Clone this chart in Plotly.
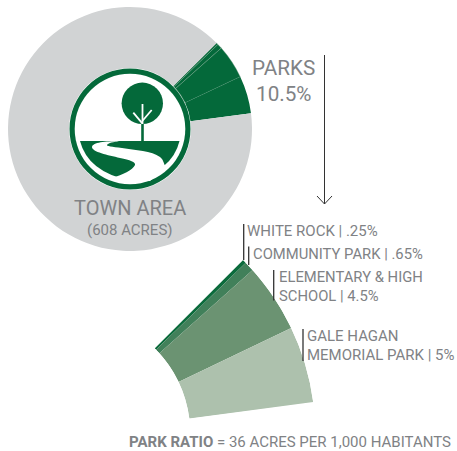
import plotly.graph_objects as go

W, H = 457, 451
park_names = ["White Rock", "Community Park", "Elementary & High School", "Gale Hagan Memorial Park"]
park_shares = [0.25, 0.65, 4.5, 5.0]
town_share = 89.6
main_colors = ["#04693a", "#04693a", "#04693a", "#04693a", "#d1d3d4"]
fan_colors = ["#0b6b3c", "#41805a", "#6b9372", "#adc1ad"]
GRAY = "#808285"
GREEN = "#04693a"
FONT = "Roboto"


def px(x):
    return x / W


def py(y):
    return 1 - y / H


fig = go.Figure()
fig.add_trace(go.Pie(
    labels=park_names + ["Town area"],
    values=park_shares + [town_share],
    sort=False, direction="clockwise", rotation=45.2, hole=0.5,
    textinfo="none", hoverinfo="skip", showlegend=False,
    marker=dict(colors=main_colors,
                line=dict(color="#7fa98f", width=[0.4, 0.4, 0.4, 0, 0])),
    domain=dict(x=[px(8), px(252)], y=[py(251), py(7)]),
))

# lower fan: the park slices enlarged
thetas, widths, cum = [], [], 45.0
for s in park_shares:
    w = s * 3.6
    thetas.append(cum + w / 2)
    widths.append(w)
    cum += w
fig.add_trace(go.Barpolar(
    r=[1, 1, 1, 1], theta=thetas, width=widths,
    marker=dict(color=fan_colors, line=dict(width=0)),
    hoverinfo="skip", showlegend=False,
))

shapes = []


def circle(cx, cy, r, fill):
    shapes.append(dict(type="circle", xref="paper", yref="paper",
                       x0=px(cx - r), x1=px(cx + r), y0=py(cy + r), y1=py(cy - r),
                       fillcolor=fill, line=dict(width=0), layer="above"))


def line(x0, y0, x1, y1, color="#333333", width=1.3):
    shapes.append(dict(type="line", xref="paper", yref="paper",
                       x0=px(x0), y0=py(y0), x1=px(x1), y1=py(y1),
                       line=dict(color=color, width=width), layer="above"))


def path(cmds, fill):
    out = []
    for c in cmds:
        if isinstance(c, str):
            out.append(c)
        else:
            out.append(f"{px(c[0]):.5f} {py(c[1]):.5f}")
    shapes.append(dict(type="path", xref="paper", yref="paper", path=" ".join(out),
                       fillcolor=fill, line=dict(width=0), layer="above"))


# logo
circle(130, 129, 60.5, GREEN)
circle(130, 129, 55.3, "white")
circle(142.3, 103.3, 20.7, GREEN)
line(142.5, 120, 142.5, 142, GREEN, 2.6)
line(142.5, 104, 142.5, 124, "white", 1.8)
line(133.3, 112.7, 142.3, 123.3, "white", 1.8)
line(151.7, 110, 142.3, 121, "white", 1.8)
path(["M", (80, 141), "L", (179.5, 141), "Q", (172, 172), (130, 180.4), "Q", (88, 172), (80, 141), "Z"], GREEN)
path(["M", (119, 141), "C", (105, 141.5), (93, 142), (92, 147), "C", (92, 152), (108, 155), (120, 158),
      "C", (130, 160), (136, 162), (135, 165), "C", (133, 170), (122, 175), (113, 177.5),
      "L", (120, 183), "L", (150, 181), "L", (166, 167), "C", (163, 163), (164, 160), (160, 157),
      "C", (152, 151), (135, 150), (122, 148), "C", (112, 147), (106, 146), (107, 145),
      "C", (108, 143), (114, 142), (119, 141), "Z"], "white")

# arrow
line(324.5, 55, 324.5, 204, "#333333", 1)
line(317, 196, 324.5, 204, "#333333", 1)
line(332, 196, 324.5, 204, "#333333", 1)

# leader lines
line(243.7, 224, 243.7, 260)
line(248.7, 246.5, 248.7, 265)
line(273.7, 270, 273.7, 300.5)
line(303, 329, 303, 361)

texts = [
    ("PARKS", 283.5, 68, 20.7, "center"),
    ("10.5%", 284, 94, 20.7, "center"),
    ("TOWN AREA", 129.5, 208, 20, "center"),
    ("(608 ACRES)", 130, 230, 15, "center"),
    ("WHITE ROCK | .25%", 247, 230.5, 15, "left"),
    ("COMMUNITY PARK | .65%", 253, 254, 14.8, "left"),
    ("ELEMENTARY &amp; HIGH", 278.5, 277, 14.8, "left"),
    ("SCHOOL | 4.5%", 278.5, 296, 14.8, "left"),
    ("GALE HAGAN", 307, 335.5, 15, "left"),
    ("MEMORIAL PARK | 5%", 307, 355, 15, "left"),
    ("<b>PARK RATIO</b> = 36 ACRES PER 1,000 HABITANTS", 129, 442, 15, "left"),
]
annotations = [dict(text=t, x=px(x), y=py(y), xref="paper", yref="paper", showarrow=False,
                    xanchor=a, yanchor="middle", font=dict(family=FONT, size=s, color=GRAY),
                    borderpad=0, borderwidth=0)
               for t, x, y, s, a in texts]

fig.update_layout(
    width=W, height=H, margin=dict(l=0, r=0, t=0, b=0), autosize=False,
    paper_bgcolor="white", plot_bgcolor="white", showlegend=False,
    shapes=shapes, annotations=annotations,
    polar=dict(
        domain=dict(x=[px(68.4), px(313.3)], y=[py(434.6), py(259.9)]),
        sector=[7.4, 45], hole=0.494, bgcolor="rgba(0,0,0,0)",
        radialaxis=dict(visible=False, range=[0, 1]),
        angularaxis=dict(visible=False, rotation=90, direction="clockwise"),
        bargap=0,
    ),
)
fig.write_html("out.html", config={"displayModeBar": False},
               post_script="document.body.style.margin='0';document.body.style.overflow='hidden';")
